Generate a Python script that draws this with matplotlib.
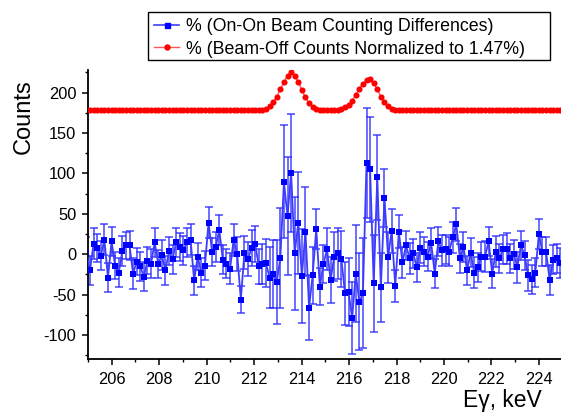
import numpy as np
import matplotlib
matplotlib.use("Agg")
import matplotlib.pyplot as plt
from matplotlib.lines import Line2D
from matplotlib.patches import Rectangle
from matplotlib.ticker import MultipleLocator

plt.rcParams['font.family'] = ['Liberation Sans', 'DejaVu Sans']
plt.rcParams['axes.unicode_minus'] = False

# channel calibration (keV)
E_start = 204.933
E_step = 0.1513

# On-On beam counting differences
diff_counts = [3,
    -20, 13, 8, -2, 18, -29, 16, -14, -23, 4,
    11, 11, -24, -9, -15, -28, -8, -12, 15, -12,
    -1, -20, 4, -6, 15, 9, 5, 15, 18, -32,
    -3, -23, -14, 39, 3, 9, 30, -7, -12, -18,
    18, 0, -56, 2, -6, 8, 13, -15, -12, -11,
    -29, -24, -34, -5, 90, 47, 101, 1, 39, -27,
    28, -66, -26, 31, -40, -12, 6, -32, -3, 1,
    -6, -48, -47, -79, -24, -59, -48, 113, 105, -36,
    95, -41, 70, -4, 29, -39, 28, -10, 11, -5,
    1, -16, 8, 3, -3, 14, -24, 16, 5, 6,
    3, 21, 37, -5, 9, -20, 2, -23, -16, -3,
    -3, 16, -24, 3, -5, 6, 7, -5, 0, -16,
    11, -1, -26, -31, -23, 25, 3, 3, -32, -7,
    -5, -11]

diff_errors = [18,
    18, 19, 17, 18, 19, 18, 18, 17, 18, 18,
    17, 18, 19, 17, 18, 18, 17, 18, 18, 17,
    19, 18, 17, 18, 18, 17, 18, 18, 19, 18,
    17, 18, 18, 19, 17, 18, 19, 18, 18, 19,
    20, 21, 17, 20, 21, 22, 22, 22, 25, 30,
    38, 42, 52, 62, 70, 73, 73, 70, 63, 58,
    55, 40, 35, 25, 23, 24, 26, 28, 30, 32,
    35, 39, 42, 45, 60, 60, 68, 68, 65, 60,
    53, 43, 36, 31, 27, 20, 20, 19, 18, 19,
    18, 18, 19, 18, 18, 19, 18, 18, 19, 18,
    18, 19, 20, 18, 19, 18, 18, 19, 18, 18,
    19, 18, 18, 19, 18, 18, 19, 18, 18, 19,
    18, 18, 19, 18, 18, 19, 18, 18, 19, 18,
    18, 19]

# Beam-off counts normalized to 1.47%
beamoff_counts = ([178] * 49 +
    [179, 180, 183, 188, 195, 204, 213, 221, 225, 221,
     213, 203, 194, 187, 182, 180, 179, 178, 178, 178,
     178, 179, 180, 182, 185, 190, 197, 205, 211, 216,
     217, 212, 204, 195, 188, 183, 180, 179] +
    [178] * 46)

label_diff = "% (On-On Beam Counting Differences)"
label_off = "% (Beam-Off Counts Normalized to 1.47%)"

n = len(diff_counts)
energy = E_start + E_step * np.arange(n)

W, H = 561, 417
fig = plt.figure(figsize=(W / 100, H / 100), dpi=100)
ax = fig.add_axes([88 / W, 1 - 359.3 / H, (562.7 - 88) / W, (359.3 - 70) / H])

blue_line = '#3c3cff'
blue_mark = '#0000ff'
red_line = '#ff5555'
red_mark = '#ff0000'

ax.errorbar(energy, diff_counts, yerr=diff_errors, fmt='none', ecolor='#2a2aff',
            elinewidth=1.2, capsize=2.6, capthick=1.2, alpha=0.8, zorder=2)
ax.plot(energy, diff_counts, '-', color=blue_line, lw=1.3, zorder=3)
ax.plot(energy, diff_counts, 's', color=blue_mark, ms=4.0, mew=0, zorder=4)

ax.plot(energy, beamoff_counts, '-', color=red_line, lw=1.0, zorder=3)
ax.plot(energy, beamoff_counts, 'o', color=red_mark, ms=4.4, mew=0, zorder=4)

ax.set_xlim(205, 225)
ax.set_ylim(-130, 228)
ax.xaxis.set_major_locator(MultipleLocator(2))
ax.xaxis.set_minor_locator(MultipleLocator(1))
ax.yaxis.set_major_locator(MultipleLocator(50))
ax.yaxis.set_minor_locator(MultipleLocator(25))

for s in ['top', 'right']:
    ax.spines[s].set_visible(False)
for s in ['left', 'bottom']:
    ax.spines[s].set_linewidth(1.3)

ax.tick_params(which='major', direction='out', length=4.5, width=1.1, labelsize=11.8)
ax.tick_params(which='minor', direction='out', length=2.5, width=1.0)
ax.tick_params(axis='y', which='major', pad=4)
ax.tick_params(axis='x', which='major', pad=5)

fig.text(24 / W, 1 - 117 / H, 'Counts', rotation=90, ha='center', va='center', fontsize=17)
fig.text(542 / W, 1 - 401 / H, 'Eγ, keV', ha='right', va='center', fontsize=16.5)

# legend frame drawn as a box, entries placed inside
fig.patches.append(Rectangle((148 / W, 1 - 60 / H), (550 - 148) / W, 48 / H,
                             transform=fig.transFigure, facecolor='white',
                             edgecolor='black', lw=1.0, zorder=5))
h1 = Line2D([], [], color=blue_line, lw=1.2, marker='s', ms=3.6, mfc=blue_mark, mec=blue_mark)
h2 = Line2D([], [], color=red_line, lw=1.0, marker='o', ms=3.6, mfc=red_mark, mec=red_mark)
leg = fig.legend([h1, h2], [label_diff, label_off], loc='upper left',
                 bbox_to_anchor=(149 / W, 1 - 13 / H), bbox_transform=fig.transFigure,
                 borderaxespad=0, fontsize=12.8, frameon=False,
                 handlelength=1.4, handletextpad=0.4,
                 labelspacing=0.3, borderpad=0.3)
leg.set_zorder(6)

fig.savefig('out.png', dpi=100)
